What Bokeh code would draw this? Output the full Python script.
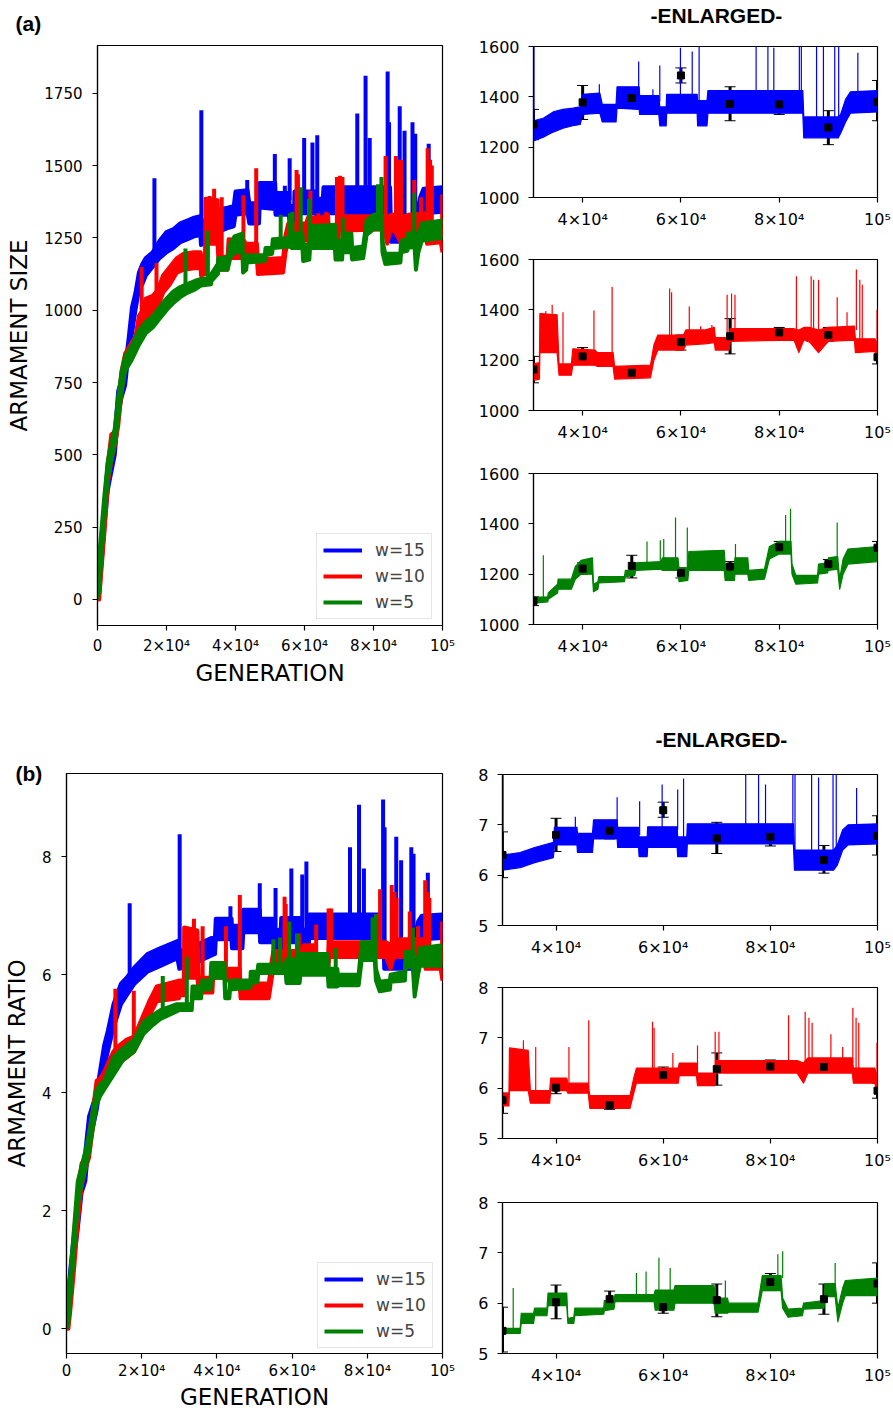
from bokeh.plotting import figure
from bokeh.layouts import row, column
from bokeh.models import (ColumnDataSource, Range1d, FixedTicker, Title, Legend,
                          LegendItem, Whisker, TeeHead)
from bokeh.embed import file_html
from bokeh.resources import INLINE

# ---------------- DATA ----------------
# (a) ARMAMENT SIZE, noisy band read as lower / upper envelope per generation
BLUE_A_X = [0, 500, 1000, 2000, 3000, 4000, 5000, 6000, 7000, 8000, 9000, 10000, 11000, 12000, 13000, 14000, 16000, 18000, 20000, 22000, 24000, 26000, 28000, 29800, 30000, 32000, 34000, 36000, 38000, 39500, 40000, 43500, 44000, 46800, 47000, 51500, 51600, 55500, 55700, 57000, 57100, 63300, 63400, 65300, 65500, 84800, 85000, 92000, 92500, 93500, 94500, 100000]
BLUE_A_LO = [0, 20, 100, 250, 380, 440, 500, 640, 700, 740, 850, 920, 1000, 1070, 1090, 1120, 1150, 1180, 1200, 1215, 1235, 1245, 1255, 1260, 1225, 1240, 1260, 1275, 1285, 1290, 1330, 1335, 1300, 1300, 1355, 1350, 1330, 1330, 1285, 1285, 1335, 1335, 1285, 1285, 1335, 1335, 1237, 1237, 1255, 1300, 1335, 1340]
BLUE_A_HI = [0, 120, 200, 330, 470, 500, 570, 720, 760, 800, 900, 1010, 1060, 1130, 1160, 1180, 1200, 1240, 1270, 1280, 1300, 1310, 1320, 1325, 1305, 1315, 1340, 1350, 1355, 1360, 1410, 1415, 1370, 1370, 1440, 1440, 1405, 1405, 1360, 1360, 1410, 1410, 1385, 1385, 1425, 1425, 1320, 1320, 1330, 1390, 1420, 1425]
BLUE_A_SPK_X = [16500, 30100, 43400, 51400, 54300, 55700, 59900, 62300, 63700, 75300, 77700, 78900, 84100, 84500, 87600, 89000, 91300, 92100, 96000]
BLUE_A_SPK_LO = [1200, 1300, 1400, 1420, 1400, 1380, 1400, 1400, 1380, 1420, 1420, 1420, 1420, 1400, 1300, 1300, 1300, 1300, 1410]
BLUE_A_SPK_HI = [1456, 1691, 1450, 1540, 1430, 1525, 1595, 1580, 1605, 1680, 1810, 1595, 1825, 1650, 1705, 1620, 1650, 1610, 1575]

RED_A_X = [0, 500, 1000, 2000, 3000, 4000, 5000, 6000, 7000, 8000, 9000, 10000, 11000, 12000, 13000, 14000, 16000, 17500, 19000, 21000, 23000, 25000, 28000, 29900, 30000, 31200, 31300, 34800, 35200, 37700, 38000, 42500, 43000, 46200, 46500, 53800, 54500, 55300, 60500, 61000, 64800, 66800, 67000, 69800, 70000, 83000, 84000, 85000, 86300, 88000, 90000, 95300, 95500, 99500, 100000]
RED_A_LO = [0, 0, 80, 230, 400, 480, 530, 600, 720, 800, 830, 840, 860, 900, 930, 970, 1000, 1010, 1060, 1090, 1130, 1140, 1145, 1145, 1120, 1125, 1230, 1230, 1140, 1140, 1180, 1180, 1175, 1175, 1125, 1130, 1200, 1240, 1240, 1260, 1265, 1270, 1240, 1240, 1275, 1280, 1230, 1280, 1270, 1230, 1275, 1280, 1230, 1235, 1200]
RED_A_HI = [0, 80, 170, 320, 470, 570, 580, 680, 790, 850, 870, 890, 910, 980, 1000, 1040, 1050, 1070, 1120, 1150, 1180, 1195, 1200, 1200, 1185, 1190, 1385, 1380, 1185, 1185, 1245, 1240, 1230, 1230, 1175, 1180, 1260, 1300, 1300, 1320, 1320, 1330, 1290, 1290, 1325, 1325, 1320, 1330, 1330, 1320, 1330, 1335, 1285, 1285, 1260]
RED_A_SPK_X = [12800, 17100, 32500, 33800, 36000, 42300, 46000, 57700, 58100, 61700, 64000, 66300, 69400, 70300, 71000, 83500, 86500, 87000, 88000, 91800, 93800, 95700, 96400, 96900, 99900]
RED_A_SPK_LO = [1000, 1050, 1300, 1300, 1170, 1230, 1220, 1290, 1290, 1300, 1310, 1320, 1280, 1310, 1310, 1320, 1320, 1320, 1320, 1320, 1320, 1320, 1280, 1280, 1250]
RED_A_SPK_HI = [1149, 1163, 1395, 1420, 1390, 1397, 1491, 1485, 1470, 1413, 1335, 1340, 1460, 1465, 1460, 1533, 1533, 1520, 1520, 1450, 1390, 1560, 1520, 1500, 1400]

GREEN_A_X = [0, 500, 1000, 2000, 3000, 4000, 5000, 6000, 7000, 8000, 9000, 10000, 12000, 14000, 16000, 18000, 20000, 22000, 24000, 26000, 28000, 30000, 32900, 33000, 34900, 35000, 37700, 38500, 39700, 42000, 42200, 43100, 43300, 48500, 48700, 50600, 50800, 56000, 56200, 59400, 59600, 61400, 61600, 68800, 69000, 70900, 71000, 73600, 73800, 77000, 78000, 80000, 82400, 82600, 83400, 87800, 88000, 89800, 90000, 91900, 92300, 93000, 94000, 100000]
GREEN_A_LO = [0, 30, 120, 280, 420, 480, 540, 620, 720, 790, 810, 830, 880, 920, 940, 970, 1000, 1025, 1045, 1060, 1070, 1085, 1090, 1100, 1125, 1140, 1140, 1180, 1200, 1200, 1130, 1140, 1165, 1170, 1190, 1195, 1215, 1220, 1215, 1215, 1170, 1175, 1215, 1215, 1175, 1175, 1200, 1200, 1175, 1180, 1260, 1280, 1280, 1200, 1160, 1165, 1200, 1205, 1215, 1220, 1140, 1200, 1240, 1250]
GREEN_A_HI = [0, 150, 220, 360, 480, 540, 590, 700, 790, 840, 860, 880, 930, 960, 980, 1010, 1040, 1065, 1080, 1090, 1100, 1108, 1110, 1125, 1160, 1180, 1180, 1230, 1255, 1265, 1160, 1170, 1190, 1190, 1215, 1215, 1245, 1250, 1265, 1265, 1225, 1225, 1290, 1295, 1240, 1240, 1265, 1265, 1215, 1220, 1310, 1330, 1330, 1240, 1195, 1195, 1240, 1245, 1265, 1270, 1180, 1260, 1300, 1310]
GREEN_A_SPK_X = [25500, 32000, 53100, 55800, 56500, 58900, 61300, 71100, 81300, 82300, 91800]
GREEN_A_SPK_LO = [1080, 1100, 1240, 1245, 1245, 1260, 1220, 1260, 1320, 1320, 1265]
GREEN_A_SPK_HI = [1213, 1275, 1330, 1335, 1340, 1425, 1385, 1320, 1435, 1460, 1405]

# (b) ARMAMENT RATIO
BLUE_B_X = [0, 500, 1000, 2000, 3000, 4000, 5000, 6000, 7000, 8000, 9000, 10000, 11000, 12500, 14500, 16000, 18000, 21500, 25000, 29500, 30000, 33300, 36000, 39500, 39700, 43900, 44000, 46800, 47000, 51400, 51500, 55400, 55500, 57000, 57100, 62600, 62700, 64400, 64500, 84300, 84500, 91800, 92500, 93500, 94500, 100000]
BLUE_B_LO = [0, 0.1, 0.5, 1.2, 1.7, 2.3, 2.5, 3.2, 3.4, 3.7, 4.1, 4.4, 4.7, 5.1, 5.5, 5.65, 5.84, 6.05, 6.15, 6.28, 6.1, 6.15, 6.25, 6.35, 6.6, 6.6, 6.45, 6.45, 6.72, 6.72, 6.55, 6.55, 6.37, 6.37, 6.55, 6.55, 6.37, 6.37, 6.62, 6.62, 6.1, 6.1, 6.2, 6.5, 6.6, 6.62]
BLUE_B_HI = [0, 0.6, 1.0, 1.6, 2.3, 2.6, 3.0, 3.6, 3.8, 4.0, 4.4, 4.8, 5.05, 5.5, 5.85, 5.95, 6.12, 6.35, 6.45, 6.57, 6.4, 6.45, 6.55, 6.65, 6.95, 6.95, 6.83, 6.83, 7.1, 7.1, 6.95, 6.95, 6.76, 6.76, 6.96, 6.96, 6.76, 6.76, 7.02, 7.02, 6.5, 6.5, 6.6, 6.9, 7.0, 7.02]
BLUE_B_SPK_X = [16800, 30100, 43600, 51400, 55600, 59800, 62700, 63800, 75400, 77800, 79100, 84200, 84600, 87700, 89000, 91700, 92300, 96100]
BLUE_B_SPK_LO = [5.9, 6.4, 6.9, 7.0, 6.8, 6.9, 6.9, 6.7, 7.0, 7.0, 7.0, 7.0, 6.5, 6.5, 6.5, 6.5, 6.5, 7.0]
BLUE_B_SPK_HI = [7.21, 8.38, 7.16, 7.55, 7.47, 7.80, 7.70, 7.92, 8.16, 8.88, 7.8, 8.97, 8.5, 8.34, 7.94, 8.16, 8.05, 7.73]

RED_B_X = [0, 500, 1000, 2000, 3000, 4000, 5000, 6000, 7000, 8000, 9000, 10000, 11000, 12500, 14000, 16000, 18000, 20000, 22000, 24000, 29900, 30000, 31200, 31300, 34800, 35200, 38800, 39000, 42000, 42200, 46000, 46300, 53800, 54500, 55000, 62800, 63000, 66200, 66400, 69600, 69800, 85000, 86200, 87000, 95300, 95500, 99500, 100000]
RED_B_LO = [0, 0.0, 0.3, 1.0, 1.8, 2.4, 2.7, 2.9, 3.4, 3.9, 4.0, 4.1, 4.2, 4.35, 4.5, 4.6, 4.7, 4.95, 5.3, 5.55, 5.6, 5.65, 5.65, 5.95, 5.95, 5.7, 5.7, 5.95, 5.95, 5.9, 5.9, 5.6, 5.6, 5.9, 6.1, 6.1, 6.25, 6.25, 6.05, 6.05, 6.3, 6.3, 6.1, 6.3, 6.3, 6.1, 6.1, 5.9]
RED_B_HI = [0, 0.4, 0.8, 1.5, 2.3, 2.8, 2.9, 3.3, 3.7, 4.2, 4.25, 4.35, 4.5, 4.7, 4.8, 4.9, 4.95, 5.25, 5.55, 5.8, 5.9, 5.9, 5.9, 6.8, 6.75, 5.95, 5.95, 6.2, 6.2, 6.1, 6.1, 5.85, 5.85, 6.2, 6.4, 6.4, 6.5, 6.5, 6.3, 6.3, 6.55, 6.55, 6.5, 6.6, 6.6, 6.4, 6.4, 6.2]
RED_B_SPK_X = [13000, 17900, 33900, 36200, 42400, 46100, 58000, 58300, 61800, 66400, 69700, 70400, 83400, 86500, 87200, 87800, 91300, 93500, 95400, 96000, 96500, 99900]
RED_B_SPK_LO = [4.7, 4.9, 6.5, 5.9, 6.1, 6.0, 6.3, 6.3, 6.3, 6.3, 6.2, 6.3, 6.5, 6.5, 6.5, 6.5, 6.5, 6.5, 6.5, 6.3, 6.3, 6.2]
RED_B_SPK_HI = [5.76, 5.73, 6.95, 6.82, 6.82, 7.35, 7.32, 7.2, 6.70, 6.85, 7.12, 7.12, 7.45, 7.52, 7.4, 7.3, 7.07, 6.82, 7.60, 7.4, 7.3, 6.9]

GREEN_B_X = [0, 500, 1000, 2000, 3000, 4000, 5000, 6000, 7000, 8000, 9000, 10000, 12500, 15000, 18000, 20500, 23000, 25000, 29400, 30000, 33300, 33500, 35800, 36000, 38300, 38500, 42000, 42200, 43300, 43500, 48900, 49000, 50800, 51000, 58300, 58500, 62000, 62200, 69500, 69700, 72000, 72200, 77700, 78500, 82000, 82300, 83300, 86000, 86200, 90000, 90200, 92100, 92600, 93500, 94000, 100000]
GREEN_B_LO = [0, 0.1, 0.5, 1.3, 2.1, 2.45, 2.7, 3.0, 3.4, 3.8, 3.95, 4.05, 4.3, 4.55, 4.7, 5.0, 5.15, 5.25, 5.38, 5.4, 5.4, 5.6, 5.6, 5.75, 5.75, 5.95, 5.95, 5.6, 5.6, 5.75, 5.78, 5.85, 5.88, 6.03, 6.03, 5.86, 5.86, 6.0, 6.0, 5.8, 5.8, 5.82, 5.82, 6.25, 6.25, 5.9, 5.72, 5.75, 5.88, 5.9, 6.13, 6.13, 5.63, 6.0, 6.15, 6.15]
GREEN_B_HI = [0, 0.7, 0.9, 1.7, 2.5, 2.75, 3.0, 3.3, 3.7, 4.05, 4.15, 4.2, 4.6, 4.75, 4.9, 5.2, 5.32, 5.4, 5.5, 5.5, 5.5, 5.8, 5.8, 5.9, 5.9, 6.2, 6.2, 5.7, 5.72, 5.9, 5.9, 6.05, 6.05, 6.17, 6.17, 6.26, 6.26, 6.35, 6.35, 6.1, 6.1, 6.0, 6.0, 6.55, 6.55, 6.1, 5.88, 5.9, 6.0, 6.05, 6.39, 6.39, 5.9, 6.3, 6.45, 6.5]
GREEN_B_SPK_X = [25600, 32000, 55000, 56800, 59200, 61300, 71600, 81400, 82300, 92100]
GREEN_B_SPK_LO = [5.4, 5.5, 6.1, 6.1, 6.2, 6.2, 6.0, 6.5, 6.5, 6.3]
GREEN_B_SPK_HI = [5.98, 6.30, 6.6, 6.63, 6.9, 6.7, 6.45, 6.97, 7.03, 6.8]

# mean +/- error markers in the enlarged panels
MARK_X = [30000, 40000, 50000, 60000, 70000, 80000, 90000, 100000]
MARK_BLUE_A = [1290, 1378, 1395, 1485, 1372, 1370, 1278, 1380]
MARK_BLUE_A_LO = [1230, 1310, 1360, 1455, 1305, 1330, 1210, 1305]
MARK_BLUE_A_HI = [1350, 1445, 1430, 1515, 1440, 1415, 1345, 1465]
MARK_RED_A = [1163, 1215, 1150, 1272, 1295, 1310, 1300, 1212]
MARK_RED_A_LO = [1110, 1185, 1130, 1240, 1225, 1290, 1275, 1185]
MARK_RED_A_HI = [1215, 1250, 1175, 1300, 1365, 1330, 1330, 1240]
MARK_GREEN_A = [1093, 1222, 1233, 1205, 1230, 1307, 1240, 1305]
MARK_GREEN_A_LO = [1075, 1200, 1185, 1185, 1210, 1290, 1225, 1280]
MARK_GREEN_A_HI = [1110, 1245, 1275, 1225, 1250, 1330, 1258, 1330]
MARK_BLUE_B = [6.40, 6.80, 6.88, 7.29, 6.73, 6.76, 6.30, 6.78]
MARK_BLUE_B_LO = [5.95, 6.47, 6.72, 7.15, 6.43, 6.58, 6.04, 6.40]
MARK_BLUE_B_HI = [6.86, 7.13, 7.05, 7.45, 7.05, 6.97, 6.59, 7.18]
MARK_RED_B = [5.76, 6.01, 5.66, 6.26, 6.38, 6.43, 6.42, 5.95]
MARK_RED_B_LO = [5.50, 5.89, 5.58, 6.12, 6.06, 6.35, 6.35, 5.80]
MARK_RED_B_HI = [5.90, 6.17, 5.78, 6.42, 6.70, 6.56, 6.53, 6.10]
MARK_GREEN_B = [5.45, 6.02, 6.08, 5.92, 6.06, 6.42, 6.08, 6.39]
MARK_GREEN_B_LO = [5.03, 5.69, 5.94, 5.80, 5.73, 6.25, 5.78, 6.00]
MARK_GREEN_B_HI = [5.92, 6.36, 6.24, 6.05, 6.38, 6.59, 6.38, 6.80]

SERIES_LABELS = ["w=15", "w=10", "w=5"]
COLORS = ["#0000ff", "#ff0000", "#008000"]

X_TICKS_MAIN = [0, 20000, 40000, 60000, 80000, 100000]
X_LABELS_MAIN = ["0", "2×10⁴", "4×10⁴", "6×10⁴", "8×10⁴", "10⁵"]
X_TICKS_ZOOM = [40000, 60000, 80000, 100000]
X_LABELS_ZOOM = ["4×10⁴", "6×10⁴", "8×10⁴", "10⁵"]
Y_TICKS_SIZE = [0, 250, 500, 750, 1000, 1250, 1500, 1750]
Y_TICKS_SIZE_ZOOM = [1000, 1200, 1400, 1600]
Y_TICKS_RATIO = [0, 2, 4, 6, 8]
Y_TICKS_RATIO_ZOOM = [5, 6, 7, 8]

FONT = "DejaVu Sans"
TITLE_FONT = "Liberation Sans"


def style(p, xt, xl, yt, font_px, label_standoff_x, label_standoff_y):
    p.xgrid.visible = False
    p.ygrid.visible = False
    p.outline_line_color = "black"
    p.outline_line_width = 1.2
    p.outline_line_alpha = 1.0
    p.background_fill_color = "white"
    p.border_fill_color = "white"
    p.xaxis.ticker = FixedTicker(ticks=xt)
    p.xaxis.major_label_overrides = dict(zip(xt, xl))
    p.yaxis.ticker = FixedTicker(ticks=yt)
    for ax in (p.xaxis, p.yaxis):
        ax.axis_line_color = "black"
        ax.axis_line_width = 1.2
        ax.major_tick_line_color = "black"
        ax.major_tick_line_width = 1.2
        ax.major_tick_out = 5
        ax.major_tick_in = 0
        ax.minor_tick_out = 0
        ax.minor_tick_in = 0
        ax.major_label_text_font = FONT
        ax.major_label_text_font_size = f"{font_px}px"
        ax.major_label_text_color = "black"
    p.xaxis.major_label_standoff = label_standoff_x
    p.yaxis.major_label_standoff = label_standoff_y


def heading(p, text, offset, spacer, standoff=0):
    """Bold heading placed in the panel above the frame (first added = nearest the frame)."""
    if spacer is not None:
        p.add_layout(Title(text=" ", text_font_size="1px", standoff=spacer), "above")
    p.add_layout(Title(text=text, align="left", offset=offset, standoff=standoff,
                       vertical_align="middle", text_font=TITLE_FONT,
                       text_font_style="bold", text_font_size="21px",
                       text_color="black"), "above")


def band_series(p, x, lo, hi, sx, slo, shi, color, lw):
    p.varea(x=x, y1=lo, y2=hi, fill_color=color, fill_alpha=1.0)
    r = p.line(x, hi, line_color=color, line_width=lw, line_join="round")
    p.line(x, lo, line_color=color, line_width=lw, line_join="round")
    p.segment(x0=sx, y0=slo, x1=sx, y1=shi, line_color=color, line_width=lw)
    return r


def main_panel(width, height, borders, yrange, yticks, ylabel, series, legend_xy,
               tick_standoff, xlabel_standoff):
    left, right, top, bottom = borders
    p = figure(width=width, height=height, x_range=Range1d(0, 100000),
               y_range=Range1d(*yrange), output_backend="svg", toolbar_location=None,
               min_border_left=left, min_border_right=right,
               min_border_top=top, min_border_bottom=bottom)
    style(p, X_TICKS_MAIN, X_LABELS_MAIN, yticks, 15, tick_standoff, 10)
    renderers = []
    for (x, lo, hi, sx, slo, shi), c in zip(series, COLORS):
        renderers.append(band_series(p, x, lo, hi, sx, slo, shi, c, 4))
    p.xaxis.axis_label = "GENERATION"
    p.yaxis.axis_label = ylabel
    for ax in (p.xaxis, p.yaxis):
        ax.axis_label_text_font = FONT
        ax.axis_label_text_font_style = "normal"
        ax.axis_label_text_font_size = "23px"
        ax.axis_label_text_color = "black"
    p.xaxis.axis_label_standoff = xlabel_standoff
    p.yaxis.axis_label_standoff = 9
    legend = Legend(items=[LegendItem(label=l, renderers=[r]) for l, r in zip(SERIES_LABELS, renderers)],
                    location=legend_xy, margin=0, padding=6, spacing=6,
                    glyph_width=39, glyph_height=20, label_height=20, label_standoff=13,
                    label_text_font=FONT, label_text_font_size="17px",
                    border_line_color="#cccccc", border_line_width=1,
                    background_fill_color="white", background_fill_alpha=0.85)
    p.add_layout(legend)
    return p


def zoom_panel(height, borders, yrange, yticks, data, marks, color):
    left, right, top, bottom = borders
    p = figure(width=438, height=height, x_range=Range1d(30000, 100000),
               y_range=Range1d(*yrange), output_backend="svg", toolbar_location=None,
               min_border_left=left, min_border_right=right,
               min_border_top=top, min_border_bottom=bottom)
    style(p, X_TICKS_ZOOM, X_LABELS_ZOOM, yticks, 16, 7, 9)
    x, lo, hi, sx, slo, shi = data
    band_series(p, x, lo, hi, sx, slo, shi, color, 1.2)
    my, mlo, mhi = marks
    src = ColumnDataSource(dict(x=MARK_X, y=my, lo=mlo, hi=mhi))
    p.add_layout(Whisker(source=src, base="x", upper="hi", lower="lo",
                         line_color="black", line_width=3,
                         upper_head=TeeHead(size=11, line_color="black", line_width=1),
                         lower_head=TeeHead(size=11, line_color="black", line_width=1)))
    p.scatter("x", "y", source=src, marker="square", size=7, color="black")
    return p


blue_a = (BLUE_A_X, BLUE_A_LO, BLUE_A_HI, BLUE_A_SPK_X, BLUE_A_SPK_LO, BLUE_A_SPK_HI)
red_a = (RED_A_X, RED_A_LO, RED_A_HI, RED_A_SPK_X, RED_A_SPK_LO, RED_A_SPK_HI)
green_a = (GREEN_A_X, GREEN_A_LO, GREEN_A_HI, GREEN_A_SPK_X, GREEN_A_SPK_LO, GREEN_A_SPK_HI)
blue_b = (BLUE_B_X, BLUE_B_LO, BLUE_B_HI, BLUE_B_SPK_X, BLUE_B_SPK_LO, BLUE_B_SPK_HI)
red_b = (RED_B_X, RED_B_LO, RED_B_HI, RED_B_SPK_X, RED_B_SPK_LO, RED_B_SPK_HI)
green_b = (GREEN_B_X, GREEN_B_LO, GREEN_B_HI, GREEN_B_SPK_X, GREEN_B_SPK_LO, GREEN_B_SPK_HI)

left_a = main_panel(455, 720, (97, 13, 45, 95), (-90, 1915), Y_TICKS_SIZE, "ARMAMENT SIZE",
                    [blue_a, red_a, green_a], (219, 6), 6, 2)
heading(left_a, "(a)", -82, 6.5)
left_b = main_panel(455, 693, (66, 13, 53, 60), (-0.42, 9.41), Y_TICKS_RATIO, "ARMAMENT RATIO",
                    [blue_b, red_b, green_b], (251, 5), 3, 1)
heading(left_b, "(b)", -51, None, standoff=-27)

z1a = zoom_panel(231, (78, 16, 46, 33), (1000, 1600), Y_TICKS_SIZE_ZOOM, blue_a,
                 (MARK_BLUE_A, MARK_BLUE_A_LO, MARK_BLUE_A_HI), COLORS[0])
heading(z1a, "-ENLARGED-", 117, 15.5)
z2a = zoom_panel(213, (78, 16, 28, 33), (1000, 1600), Y_TICKS_SIZE_ZOOM, red_a,
                 (MARK_RED_A, MARK_RED_A_LO, MARK_RED_A_HI), COLORS[1])
z3a = zoom_panel(276, (78, 16, 29, 96), (1000, 1600), Y_TICKS_SIZE_ZOOM, green_a,
                 (MARK_GREEN_A, MARK_GREEN_A_LO, MARK_GREEN_A_HI), COLORS[2])

z1b = zoom_panel(239, (47, 16, 54, 33), (5, 8), Y_TICKS_RATIO_ZOOM, blue_b,
                 (MARK_BLUE_B, MARK_BLUE_B_LO, MARK_BLUE_B_HI), COLORS[0])
heading(z1b, "-ENLARGED-", 153, 19.5)
z2b = zoom_panel(213, (47, 16, 28, 33), (5, 8), Y_TICKS_RATIO_ZOOM, red_b,
                 (MARK_RED_B, MARK_RED_B_LO, MARK_RED_B_HI), COLORS[1])
z3b = zoom_panel(241, (47, 16, 30, 60), (5, 8), Y_TICKS_RATIO_ZOOM, green_b,
                 (MARK_GREEN_B, MARK_GREEN_B_LO, MARK_GREEN_B_HI), COLORS[2])

layout = column(row(left_a, column(z1a, z2a, z3a, spacing=0), spacing=0),
                row(left_b, column(z1b, z2b, z3b, spacing=0), spacing=0), spacing=0)

open("out.html", "w").write(file_html(layout, INLINE))
